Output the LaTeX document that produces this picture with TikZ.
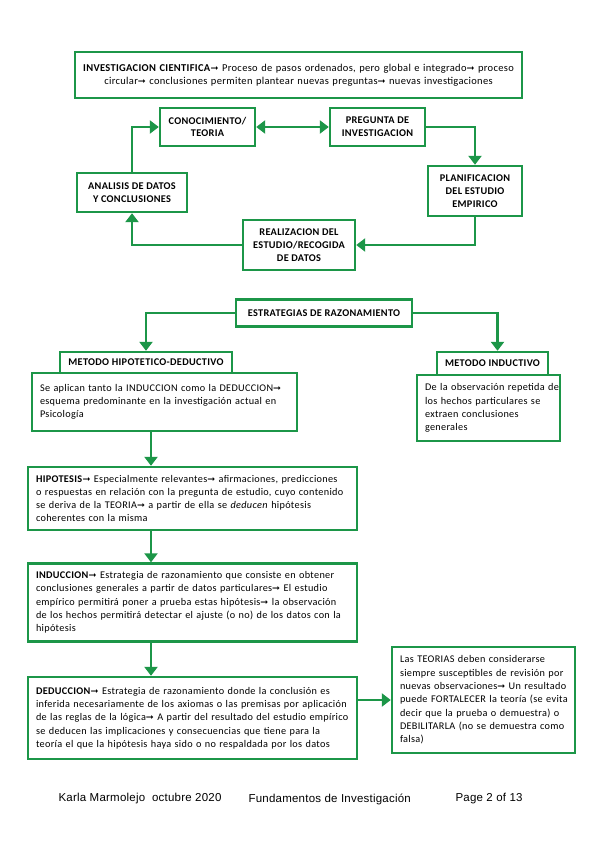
\documentclass[tikz,border=0pt]{standalone}
\usepackage{fontspec}
\setmainfont{Carlito}[LetterSpace=3]
\newfontfamily\footfont{Liberation Sans}[LetterSpace=2]
\newfontfamily\symfont{DejaVu Sans}
\usetikzlibrary{arrows.meta}

\definecolor{boxgreen}{RGB}{28,150,72}
\newcommand{\arr}{{\symfont\fontsize{9.5}{10}\selectfont ➞}}

\tikzset{
  box/.style={draw=boxgreen, line width=2.4pt, inner xsep=8pt, inner ysep=3pt,
    font=\fontsize{10.5}{13.3}\selectfont},
  cyclebox/.style={box, align=center, font=\fontsize{10.3}{12.7}\selectfont\bfseries},
  % lines are broken by hand; let a long line run into the padding
  textbox/.style={box, text width=#1, font=\fontsize{10.25}{13.3}\selectfont,
    execute at begin node={\rightskip=0pt plus 1fil minus 1000pt\parfillskip=0pt plus 1fil}},
  textbox/.default=313pt,
  flow/.style={draw=boxgreen, line width=2.4pt, -{Triangle[length=9pt,width=13pt]}},
  foot/.style={font=\footfont\fontsize{11.5}{13}\selectfont, anchor=west},
}

\begin{document}
\begin{tikzpicture}[x=1pt,y=-1pt]
  \useasboundingbox[fill=white] (0,0) rectangle (599,848);

  % Header
  \node[box, align=center, text width=431pt, minimum height=46pt] (ciencia) at (298.5,75)
    {\textbf{INVESTIGACION CIENTIFICA}\arr{} Proceso de pasos ordenados, pero global e integrado\arr{} proceso\\
     circular\arr{} conclusiones permiten plantear nuevas preguntas\arr{} nuevas investigaciones};

  % Research cycle
  \node[cyclebox, minimum width=95pt, minimum height=38pt] (conoc) at (207.5,127) {CONOCIMIENTO/\\TEORIA};
  \node[cyclebox, minimum width=95pt, minimum height=38pt] (preg) at (377.5,127) {PREGUNTA DE\\INVESTIGACION};
  \node[cyclebox, minimum width=94pt, minimum height=50pt] (plan) at (475,191) {PLANIFICACION\\DEL ESTUDIO\\EMPIRICO};
  \node[cyclebox, minimum width=112pt, minimum height=50pt] (real) at (299,245) {REALIZACION DEL\\ESTUDIO/RECOGIDA\\DE DATOS};
  \node[cyclebox, minimum width=110pt, minimum height=39pt] (anal) at (132,192.5) {ANALISIS DE DATOS\\Y CONCLUSIONES};

  \draw[flow, {Triangle[length=9pt,width=13pt]}-{Triangle[length=9pt,width=13pt]}] (conoc) -- (preg);
  \draw[flow] (preg.east) -| (plan.north);
  \draw[flow] (plan.south) |- (real.east);
  \draw[flow] (real.west) -| (anal.south);
  \draw[flow] (anal.north) |- (conoc.west);

  % Reasoning strategies
  \node[cyclebox, minimum width=176pt, minimum height=27pt] (estr) at (324,313) {ESTRATEGIAS DE RAZONAMIENTO};
  \node[cyclebox, minimum width=172pt, minimum height=21pt] (mhd) at (146,362.5) {METODO HIPOTETICO-DEDUCTIVO};
  \node[cyclebox, minimum width=111pt, minimum height=23pt] (mi) at (492.5,363.5) {METODO INDUCTIVO};

  \draw[flow] (estr.west) -| (mhd.north);
  \draw[flow] (estr.east) -| ([xshift=5pt]mi.north);

  \node[textbox=249pt, minimum width=265pt, minimum height=58pt] (mhdtxt) at (164.5,402)
    {Se aplican tanto la INDUCCION como la DEDUCCION\arr\\
     esquema predominante en la investigación actual en\\
     Psicología};
  \node[textbox=127pt, minimum width=143pt, minimum height=66pt] (mitxt) at (488.5,408)
    {De la observación repetida de\\
     los hechos particulares se\\
     extraen conclusiones\\
     generales};

  % Deductive chain
  \node[textbox, minimum width=329pt, minimum height=63pt] (hip) at (192.5,498.5)
    {\textbf{HIPOTESIS}\arr{} Especialmente relevantes\arr{} afirmaciones, predicciones\\
     o respuestas en relación con la pregunta de estudio, cuyo contenido\\
     se deriva de la TEORIA\arr{} a partir de ella se \textit{deducen} hipótesis\\
     coherentes con la misma};
  \node[textbox, minimum width=329pt, minimum height=78pt] (ind) at (192.5,602.5)
    {\textbf{INDUCCION}\arr{} Estrategia de razonamiento que consiste en obtener\\
     conclusiones generales a partir de datos particulares\arr{} El estudio\\
     empírico permitirá poner a prueba estas hipótesis\arr{} la observación\\
     de los hechos permitirá detectar el ajuste (o no) de los datos con la\\
     hipótesis};
  \node[textbox, minimum width=329pt, minimum height=82pt] (ded) at (192.5,718)
    {\textbf{DEDUCCION}\arr{} Estrategia de razonamiento donde la conclusión es\\
     inferida necesariamente de los axiomas o las premisas por aplicación\\
     de las reglas de la lógica\arr{} A partir del resultado del estudio empírico\\
     se deducen las implicaciones y consecuencias que tiene para la\\
     teoría el que la hipótesis haya sido o no respaldada por los datos};
  \node[textbox=167pt, minimum width=183pt, minimum height=106pt] (obs) at (483.5,700)
    {Las TEORIAS deben considerarse\\
     siempre susceptibles de revisión por\\
     nuevas observaciones\arr{} Un resultado\\
     puede FORTALECER la teoría (se evita\\
     decir que la prueba o demuestra) o\\
     DEBILITARLA (no se demuestra como\\
     falsa)};

  \coordinate (spine) at (151,440);
  \foreach \a/\b in {mhdtxt/hip, hip/ind, ind/ded}
    \draw[flow] (\a.south -| spine) -- (\b.north -| spine);
  \draw[flow] (ded.east |- obs.west) -- (obs.west);

  % Footer
  \node[foot] (autor) at (55,799) {Karla Marmolejo\ \ octubre 2020};
  \node[foot] (curso) at (245,799) {Fundamentos de Investigación};
  \node[foot] (pagina) at (452,799) {Page 2 of 13};
\end{tikzpicture}
\end{document}
